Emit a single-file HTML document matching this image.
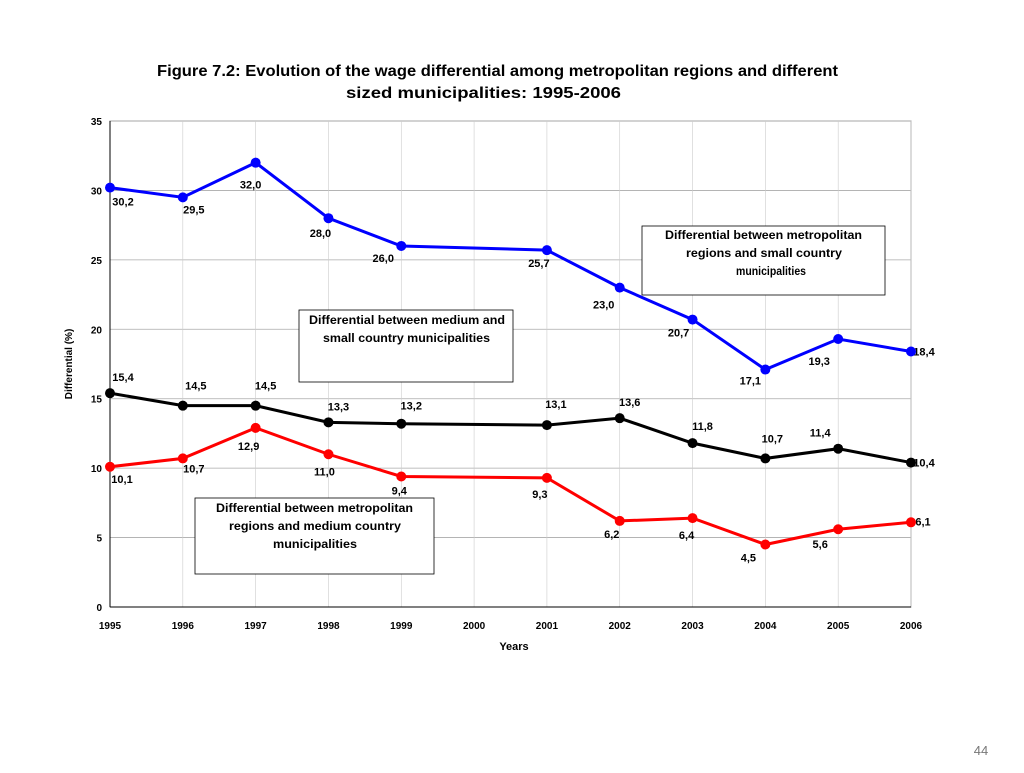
<!DOCTYPE html>
<html><head><meta charset="utf-8"><style>
body{margin:0;background:#fff;width:1024px;height:768px;overflow:hidden}
svg text{font-family:"Liberation Sans Narrow","Liberation Sans",sans-serif;font-weight:bold;fill:#000}
</style></head><body>
<svg width="1024" height="768">
<text x="157" y="76" font-size="16" textLength="681" lengthAdjust="spacingAndGlyphs">Figure 7.2: Evolution of the wage differential among metropolitan regions and different</text>
<text x="346" y="98" font-size="16" textLength="275" lengthAdjust="spacingAndGlyphs">sized municipalities: 1995-2006</text>
<g id="grid"></g><g id="axes"></g><g id="series"></g>
<text x="514" y="650" font-size="11" text-anchor="middle">Years</text>
<text transform="translate(72,364) rotate(-90)" font-size="10" text-anchor="middle">Differential (%)</text>
<g><rect x="642" y="226" width="243" height="69" fill="#fff" stroke="#000" stroke-width="0.8"/>
<text x="665" y="239" font-size="12" textLength="197" lengthAdjust="spacingAndGlyphs">Differential between metropolitan</text>
<text x="686" y="257" font-size="12" textLength="156" lengthAdjust="spacingAndGlyphs">regions and small country</text>
<text x="736" y="275" font-size="12" textLength="70" lengthAdjust="spacingAndGlyphs">municipalities</text></g>
<g><rect x="299" y="310" width="214" height="72" fill="#fff" stroke="#000" stroke-width="0.8"/>
<text x="309" y="324" font-size="12" textLength="196" lengthAdjust="spacingAndGlyphs">Differential between medium and</text>
<text x="323" y="342" font-size="12" textLength="167" lengthAdjust="spacingAndGlyphs">small country municipalities</text></g>
<g><rect x="195" y="498" width="239" height="76" fill="#fff" stroke="#000" stroke-width="0.8"/>
<text x="216" y="512" font-size="12" textLength="197" lengthAdjust="spacingAndGlyphs">Differential between metropolitan</text>
<text x="229" y="530" font-size="12" textLength="172" lengthAdjust="spacingAndGlyphs">regions and medium country</text>
<text x="273" y="548" font-size="12" textLength="84" lengthAdjust="spacingAndGlyphs">municipalities</text></g>
<text x="981" y="755" font-size="13" text-anchor="middle" style="font-weight:normal;fill:#777;font-family:'Liberation Sans',sans-serif">44</text>
</svg>
<script>
const years=[1995,1996,1997,1998,1999,2000,2001,2002,2003,2004,2005,2006];
const yTicks=[0,5,10,15,20,25,30,35];
const seriesYears=[1995,1996,1997,1998,1999,2001,2002,2003,2004,2005,2006];
const blueVals=[30.2,29.5,32.0,28.0,26.0,25.7,23.0,20.7,17.1,19.3,18.4];
const blackVals=[15.4,14.5,14.5,13.3,13.2,13.1,13.6,11.8,10.7,11.4,10.4];
const redVals=[10.1,10.7,12.9,11.0,9.4,9.3,6.2,6.4,4.5,5.6,6.1];
const NS="http://www.w3.org/2000/svg";
const X0=110,X1=911,Y0=607,Y1=121;
const xs=y=>X0+(y-1995)*(X1-X0)/11;
const ys=v=>Y0-v*(Y0-Y1)/35;
function mk(tag,attrs,parent){const e=document.createElementNS(NS,tag);for(const k in attrs)e.setAttribute(k,attrs[k]);parent.appendChild(e);return e;}
const grid=document.getElementById('grid'),axes=document.getElementById('axes'),ser=document.getElementById('series');
mk('rect',{x:X0,y:Y1,width:X1-X0,height:Y0-Y1,fill:'none',stroke:'#999','stroke-width':1},grid);
yTicks.forEach(t=>{
 const l=mk('line',{x1:X0,x2:X1,y1:ys(t),y2:ys(t),stroke:'#aaa','stroke-width':0.8},grid);
 
 
 const tx=mk('text',{x:102,y:ys(t)+4,'font-size':10,'text-anchor':'end'},axes);tx.textContent=t;
 
 
});
years.forEach(y=>{
 const l=mk('line',{x1:xs(y),x2:xs(y),y1:Y1,y2:Y0,stroke:'#ccc','stroke-width':0.6},grid);
 
 
 const tx=mk('text',{x:xs(y),y:629,'font-size':10,'text-anchor':'middle'},axes);tx.textContent=y;
 
 
});
mk('line',{x1:X0,x2:X1,y1:Y0,y2:Y0,stroke:'#000','stroke-width':1},axes);
mk('line',{x1:X0,x2:X0,y1:Y1,y2:Y0,stroke:'#000','stroke-width':1},axes);
const blueOff=[[13,14],[11,12],[-5,22],[-8,15],[-18,12],[-8,13],[-16,17],[-14,13],[-15,11],[-19,22],[13,0]];
const blackOff=[[13,-16],[13,-20],[10,-20],[10,-16],[10,-18],[9,-21],[10,-16],[10,-17],[7,-20],[-18,-16],[13,0]];
const redOff=[[12,12],[11,10],[-7,18],[-4,17],[-2,14],[-7,16],[-8,13],[-6,17],[-17,13],[-18,15],[12,-1]];
function draw(name,vals,color,off){
 const g=mk('g',{},ser);
 
 
 const pts=vals.map((v,i)=>[xs(seriesYears[i]),ys(v)]);
 mk('polyline',{points:pts.map(p=>p.join(',')).join(' '),fill:'none',stroke:color,'stroke-width':3},g);
 vals.forEach((v,i)=>{
  const t=mk('text',{x:pts[i][0]+off[i][0],y:pts[i][1]+off[i][1]+4,'font-size':11,'text-anchor':'middle'},g);
  t.textContent=v.toFixed(1).replace('.',',');
  
  
 });
 pts.forEach(p=>{
  const c=mk('circle',{cx:p[0],cy:p[1],r:5,fill:color},g);
  
  
 });
}
draw('metro-small',blueVals,'#0000ff',blueOff);
draw('medium-small',blackVals,'#000000',blackOff);
draw('metro-medium',redVals,'#ff0000',redOff);
</script>
</body></html>
